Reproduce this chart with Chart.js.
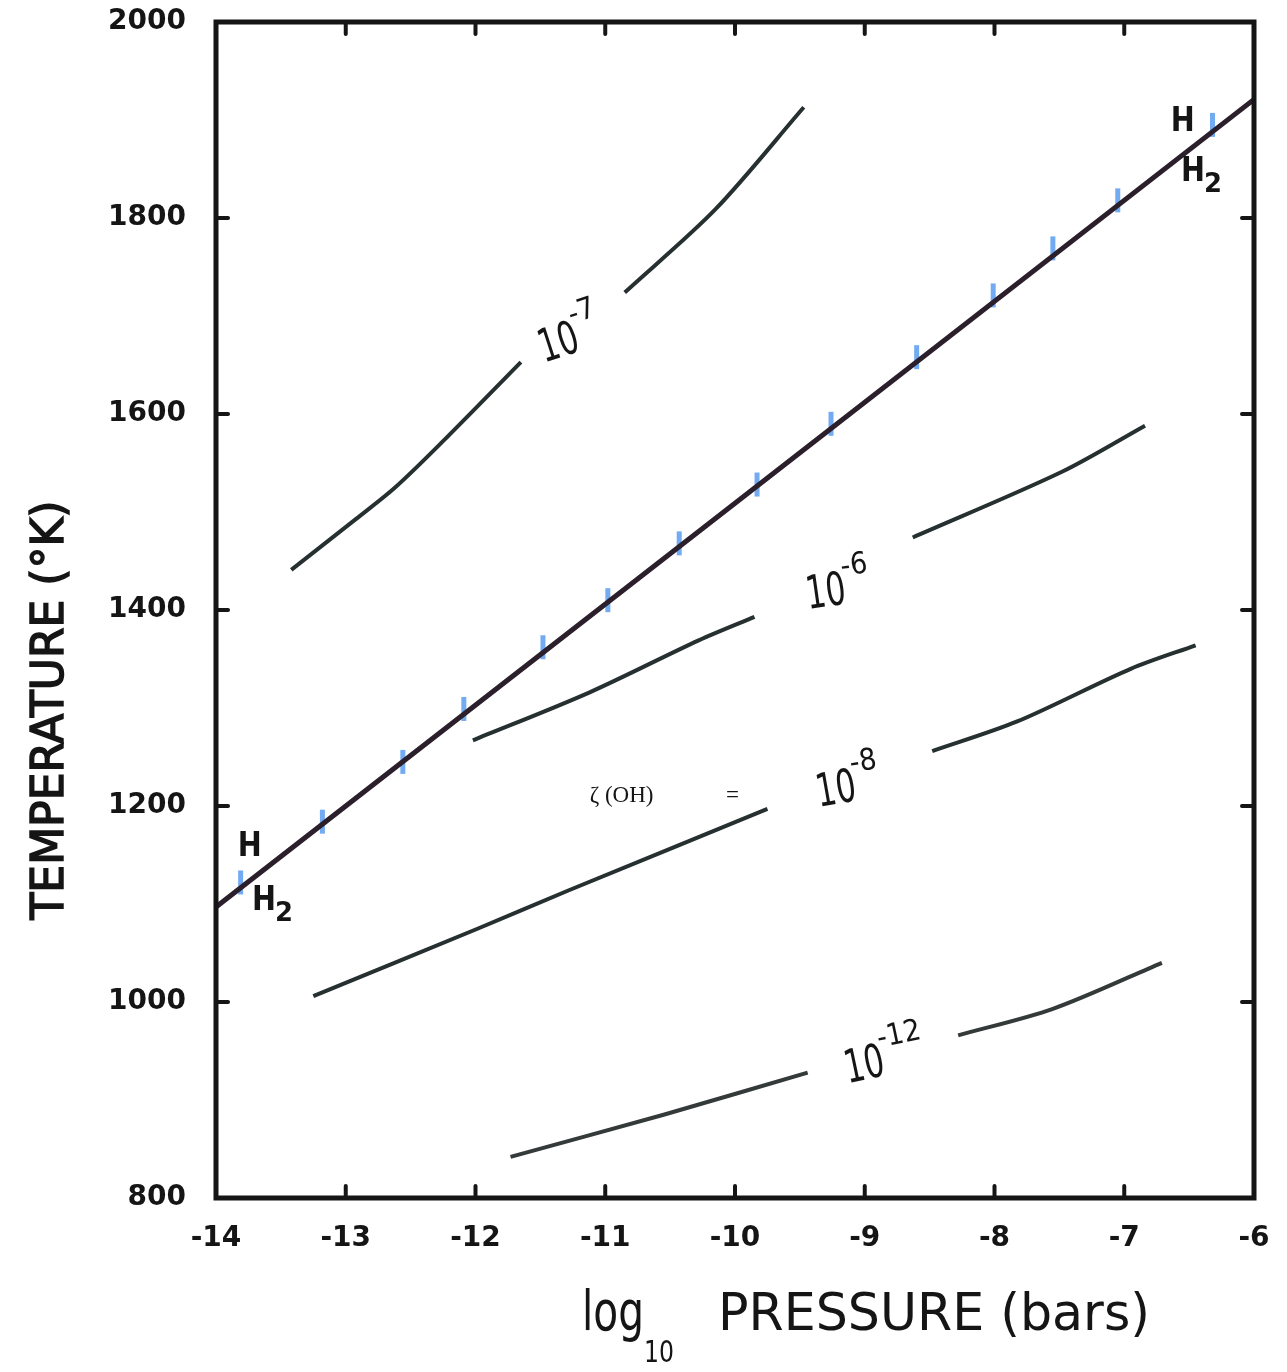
<!DOCTYPE html>
<html><head><meta charset="utf-8">
<script src="https://cdn.jsdelivr.net/npm/chart.js@4.4.0/dist/chart.umd.min.js"></script>
<style>html,body{margin:0;padding:0;background:#fff;}#wrap{width:1287px;height:1372px;}</style>
</head><body><div id="wrap"><canvas id="c" width="1287" height="1372"></canvas></div>
<script>
// ---- axis ticks ----
const xTicks = [-14, -13, -12, -11, -10, -9, -8, -7, -6];
const yTicks = [800, 1000, 1200, 1400, 1600, 1800, 2000];

// ---- H / H2 boundary line ----
const boundaryP = [-14, -6];
const boundaryT = [1097, 1921];

// ---- blue marks along the boundary ----
const markP = [-13.81, -13.18, -12.56, -12.09, -11.48, -10.98, -10.43, -9.83, -9.26, -8.60, -8.01, -7.55, -7.05, -6.32];
const markT = [1122, 1184, 1245, 1299, 1362, 1410, 1468, 1528, 1590, 1658, 1721, 1769, 1818, 1895];

// ---- zeta(OH) contours (null = gap for label) ----
const c7P  = [-13.42, -12.92, -12.62, -12.26, -11.65, -11.25, -10.85, -10.15, -9.47];
const c7T  = [1441, 1493, 1525, 1571, 1653, null, 1724, 1809, 1913];
const c6P  = [-12.02, -11.12, -10.28, -9.85, -9.2, -8.63, -7.48, -6.84];
const c6T  = [1267, 1316, 1369, 1393, null, 1474, 1541, 1588];
const c8P  = [-13.25, -11.98, -11.28, -9.75, -9.1, -8.48, -7.83, -6.95, -6.45];
const c8T  = [1006, 1075, 1114, 1197, null, 1256, 1286, 1340, 1364];
const c12P = [-11.73, -10.55, -9.44, -8.9, -8.28, -7.55, -6.71];
const c12T = [842, 885, 928, null, 966, 993, 1040];

const toXY = (P, T) => P.map((p, i) => ({x: p, y: T[i]}));

// ---- text annotations (anchors in data units) ----
const contourLabels = [
  {p: -11.50, t: 1664, exp: '-7',  rot: -18},
  {p: -9.45,  t: 1413, exp: '-6',  rot: -8},
  {p: -9.37,  t: 1211, exp: '-8',  rot: -10},
  {p: -9.15,  t: 929,  exp: '-12', rot: -12}
];
const phaseLabels = [
  {p: -13.74, t: 1158, text: 'H',  sub: ''},
  {p: -13.63, t: 1103, text: 'H',  sub: '2'},
  {p: -6.55,  t: 1898, text: 'H',  sub: ''},
  {p: -6.47,  t: 1847, text: 'H',  sub: '2'}
];
const zetaLabel = {p: -11.12, t: 1210, text: 'ζ (OH)'};
const eqLabel = {p: -10.02, t: 1210, text: '='};

const INK = '#151515';
const CURVE = '#263030';

const overlay = {
  id: 'overlay',
  afterDatasetsDraw(chart) {
    const {ctx, chartArea: a, scales: {x, y}} = chart;
    ctx.save();
    // frame
    ctx.strokeStyle = INK; ctx.lineWidth = 5; ctx.lineJoin = 'miter';
    ctx.strokeRect(a.left, a.top, a.right - a.left, a.bottom - a.top);
    // inward ticks on all four sides
    ctx.lineWidth = 4; ctx.lineCap = 'round';
    const tl = 12;
    const seg = (x1, y1, x2, y2) => { ctx.beginPath(); ctx.moveTo(x1, y1); ctx.lineTo(x2, y2); ctx.stroke(); };
    xTicks.slice(1, -1).forEach(v => {
      const px = x.getPixelForValue(v);
      seg(px, a.bottom, px, a.bottom - tl);
      seg(px, a.top, px, a.top + tl);
    });
    yTicks.slice(1, -1).forEach(v => {
      const py = y.getPixelForValue(v);
      seg(a.left, py, a.left + tl, py);
      seg(a.right, py, a.right - tl, py);
    });

    ctx.fillStyle = INK;
    ctx.textBaseline = 'middle';
    // contour labels 10^-n
    contourLabels.forEach(l => {
      const px = x.getPixelForValue(l.p), py = y.getPixelForValue(l.t);
      ctx.save();
      ctx.translate(px, py);
      ctx.rotate(l.rot * Math.PI / 180);
      ctx.textAlign = 'left';
      ctx.font = '46px "DejaVu Sans Condensed", "DejaVu Sans", sans-serif';
      ctx.fillText('10', 0, 0, 40);
      ctx.font = '30px "DejaVu Sans Condensed", "DejaVu Sans", sans-serif';
      ctx.fillText(l.exp, 38, -24, l.exp.length > 2 ? 46 : 30);
      ctx.restore();
    });
    // H / H2 labels
    phaseLabels.forEach(l => {
      const px = x.getPixelForValue(l.p), py = y.getPixelForValue(l.t);
      ctx.textAlign = 'center';
      ctx.font = 'bold 34px "DejaVu Sans", sans-serif';
      ctx.fillText(l.text, px, py, 24);
      if (l.sub) {
        ctx.font = 'bold 26px "DejaVu Sans", sans-serif';
        ctx.fillText(l.sub, px + 20, py + 13, 18);
      }
    });
    // zeta(OH) =
    ctx.textAlign = 'left';
    ctx.font = '23px "Liberation Serif", "DejaVu Serif", serif';
    ctx.fillText(zetaLabel.text, x.getPixelForValue(zetaLabel.p), y.getPixelForValue(zetaLabel.t), 94);
    ctx.textAlign = 'center';
    ctx.fillText(eqLabel.text, x.getPixelForValue(eqLabel.p), y.getPixelForValue(eqLabel.t));

    // axis titles
    ctx.save();
    ctx.translate(52, 710);
    ctx.rotate(-Math.PI / 2);
    ctx.textAlign = 'center';
    ctx.font = '44px "DejaVu Sans", sans-serif';
    ctx.lineWidth = 1.5; ctx.strokeStyle = INK;
    ctx.fillText('TEMPERATURE (°K)', 0, 0, 500);
    ctx.strokeText('TEMPERATURE (°K)', 0, 0, 500);
    ctx.restore();

    ctx.textAlign = 'left';
    ctx.textBaseline = 'alphabetic';
    ctx.font = '56px "DejaVu Sans", sans-serif';
    ctx.fillText('log', 582, 1330, 62);
    ctx.font = '30px "DejaVu Sans", sans-serif';
    ctx.fillText('10', 644, 1362, 30);
    ctx.font = '52px "DejaVu Sans", sans-serif';
    ctx.fillText('PRESSURE (bars)', 718, 1330, 432);
    ctx.restore();
  }
};

const lineDs = (data, color, width, order) => ({
  data, showLine: true, borderColor: color, borderWidth: width,
  pointRadius: 0, tension: 0.3, spanGaps: false, fill: false, order
});

new Chart(document.getElementById('c'), {
  type: 'scatter',
  data: {
    datasets: [
      lineDs(toXY(boundaryP, boundaryT), '#2a1f2b', 5, 0),
      {
        data: toXY(markP, markT), showLine: false,
        pointStyle: 'line', rotation: 90, pointRadius: 12,
        pointBorderWidth: 5, borderColor: 'rgba(80,150,240,0.8)',
        backgroundColor: 'rgba(80,150,240,0.8)', order: 1
      },
      lineDs(toXY(c7P, c7T), CURVE, 4, 2),
      lineDs(toXY(c6P, c6T), CURVE, 4, 2),
      lineDs(toXY(c8P, c8T), CURVE, 4, 2),
      lineDs(toXY(c12P, c12T), '#343a3a', 4, 2)
    ]
  },
  options: {
    responsive: false,
    animation: false,
    events: [],
    devicePixelRatio: 1,
    layout: {padding: {top: 22, right: 33, bottom: 0, left: 0}},
    plugins: {legend: {display: false}, tooltip: {enabled: false}},
    scales: {
      x: {
        type: 'linear', min: -14, max: -6,
        afterBuildTicks: s => { s.ticks = xTicks.map(v => ({value: v})); },
        ticks: {
          color: INK, padding: 24,
          font: {family: '"DejaVu Sans", sans-serif', weight: 'bold', size: 28},
          callback: v => String(v)
        },
        grid: {display: false, drawTicks: false},
        border: {display: false},
        afterFit: s => { s.height = 174; s.paddingLeft = 0; s.paddingRight = 0; }
      },
      y: {
        type: 'linear', min: 800, max: 2000,
        afterBuildTicks: s => { s.ticks = yTicks.map(v => ({value: v})); },
        ticks: {
          color: INK, padding: 30,
          font: {family: '"DejaVu Sans", sans-serif', weight: 'bold', size: 28},
          callback: v => String(v)
        },
        grid: {display: false, drawTicks: false},
        border: {display: false},
        afterFit: s => { s.width = 216; s.paddingTop = 0; s.paddingBottom = 0; }
      }
    }
  },
  plugins: [overlay]
});
</script>
</body></html>
